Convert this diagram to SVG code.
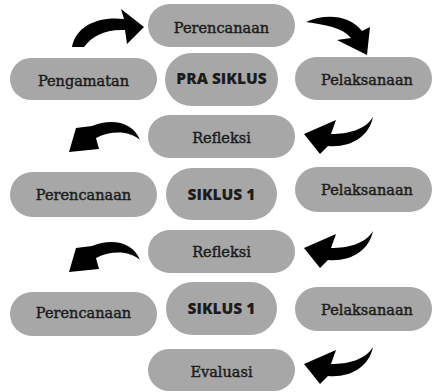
<svg xmlns="http://www.w3.org/2000/svg" xmlns:xlink="http://www.w3.org/1999/xlink" width="433" height="392" viewBox="0 0 433 392">
<defs>
<style>
.pill{fill:#a7a7a7;}
.t{font-family:"DejaVu Serif","Liberation Serif",serif;font-size:14.5px;fill:#1c1c1c;stroke:#1c1c1c;stroke-width:0.45px;text-anchor:middle;}
.b{font-family:"Open Sans","Liberation Sans",sans-serif;font-weight:800;font-size:15.5px;fill:#1c1c1c;text-anchor:middle;}
.arr{fill:#000;}
</style>
<path id="arrR" d="M373,117 C369,137 350,148 328,146 L320,154 L304,134 L336,120 L331,134 C348,134 365,130 373,117 Z"/>
<path id="arrL" d="M140,140 C133,122 112,118 92,126 L76,128 L69,152 L99,149 L96,138 C112,130 130,131 140,140 Z"/>
</defs>
<rect width="433" height="392" fill="#ffffff"/>
<g id="connectors" class="arr">
<path d="M72,47 C76,26 98,16 124,19 L121,9 L144,27 L127,44 L125,30 C105,29 92,36 84,47 Z"/>
<path d="M306,22 C325,13 350,15 362,31 L370,27 L367,55 L337,40 L351,38 C342,27 325,25 306,22 Z"/>
<use xlink:href="#arrR"/>
<use xlink:href="#arrL"/>
<use xlink:href="#arrR" transform="translate(0,114)"/>
<use xlink:href="#arrL" transform="translate(0,120)"/>
<use xlink:href="#arrR" transform="translate(0,230)"/>
</g>
<g id="n-perencanaan0"><rect class="pill" x="148" y="4" width="147" height="43" rx="21.5"/><text class="t" x="221.5" y="33">Perencanaan</text></g>
<g id="n-pengamatan"><rect class="pill" x="10" y="58" width="147" height="42" rx="21"/><text class="t" x="83.5" y="86">Pengamatan</text></g>
<g id="n-prasiklus"><rect class="pill" x="165" y="53" width="113" height="53" rx="26.5"/><text class="b" x="221.5" y="84">PRA SIKLUS</text></g>
<g id="n-pelaksanaan0"><rect class="pill" x="295" y="57" width="137" height="43" rx="21.5"/><text class="t" x="367" y="85">Pelaksanaan</text></g>
<g id="n-refleksi1"><rect class="pill" x="148" y="115" width="147" height="43" rx="21.5"/><text class="t" x="221.5" y="143">Refleksi</text></g>
<g id="n-perencanaan1"><rect class="pill" x="10" y="172" width="147" height="45" rx="22.5"/><text class="t" x="83.5" y="200">Perencanaan</text></g>
<g id="n-siklus1a"><rect class="pill" x="166" y="168" width="111" height="52" rx="26"/><text class="b" x="221.5" y="200">SIKLUS 1</text></g>
<g id="n-pelaksanaan1"><rect class="pill" x="295" y="167" width="137" height="45" rx="22.5"/><text class="t" x="367" y="195">Pelaksanaan</text></g>
<g id="n-refleksi2"><rect class="pill" x="148" y="230" width="147" height="43" rx="21.5"/><text class="t" x="221.5" y="257">Refleksi</text></g>
<g id="n-perencanaan2"><rect class="pill" x="10" y="292" width="147" height="44" rx="22"/><text class="t" x="83.5" y="318">Perencanaan</text></g>
<g id="n-siklus1b"><rect class="pill" x="166" y="282" width="111" height="53" rx="26.5"/><text class="b" x="221.5" y="314">SIKLUS 1</text></g>
<g id="n-pelaksanaan2"><rect class="pill" x="295" y="287" width="137" height="44" rx="22"/><text class="t" x="367" y="315">Pelaksanaan</text></g>
<g id="n-evaluasi"><rect class="pill" x="148" y="349" width="147" height="42" rx="21"/><text class="t" x="221.5" y="377">Evaluasi</text></g>
</svg>
